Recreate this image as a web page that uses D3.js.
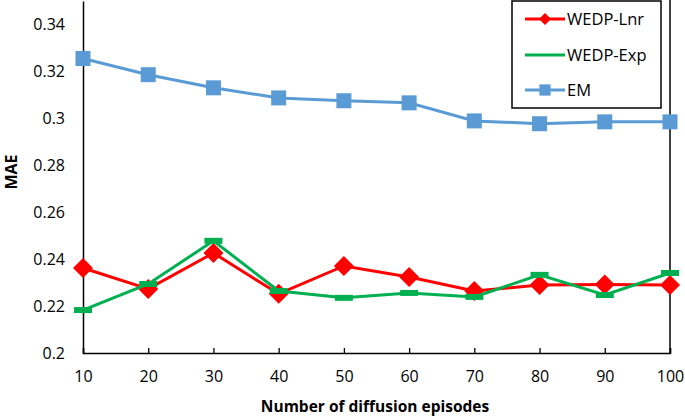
<!DOCTYPE html>
<html><head><meta charset="utf-8">
<script src="https://cdn.jsdelivr.net/npm/d3@7"></script>
<style>body{margin:0;background:#fff}svg{display:block}text{font-family:"Open Sans",sans-serif}</style>
</head><body>
<svg id="c" width="685" height="419"></svg>
<script>
const episodes = [10,20,30,40,50,60,70,80,90,100];
const wedpLnr = [0.2362,0.2273,0.2426,0.2252,0.2371,0.2324,0.2264,0.229,0.2292,0.229];
const wedpExp = [0.2183,0.2294,0.2478,0.2264,0.2235,0.2256,0.2239,0.2333,0.2247,0.2341];
const em = [0.3255,0.3186,0.313,0.3087,0.3075,0.3066,0.2989,0.2977,0.2985,0.2985];
const yTicks = [0.2,0.22,0.24,0.26,0.28,0.3,0.32,0.34];
const seriesNames = ["WEDP-Lnr","WEDP-Exp","EM"];
const colors = ["#ff0000","#00b050","#5b9bd5"];

const svg = d3.select("#c");
const L=83,R=670,T=1,B=353;
const x = d3.scaleLinear().domain([10,100]).range([L,R]);
const y = d3.scaleLinear().domain([0.2,0.35]).range([B,T]);

// axes
const xa = svg.append("g").attr("transform",`translate(0,${B})`)
  .call(d3.axisBottom(x).tickValues(episodes).tickSize(-5).tickPadding(18).tickFormat(d3.format("d")));
xa.select(".domain").attr("stroke","#000").attr("stroke-width",1.5);
xa.selectAll(".tick line").attr("stroke","#000").attr("stroke-width",1.3);
xa.selectAll("text").attr("font-size",16).attr("fill","#000");

const ya = svg.append("g").attr("transform",`translate(${L},0)`)
  .call(d3.axisLeft(y).tickValues(yTicks).tickSize(0).tickPadding(18).tickFormat(d=>String(+d.toFixed(2))));
ya.select(".domain").attr("stroke","#000").attr("stroke-width",1.5);
ya.selectAll("text").attr("font-size",16).attr("fill","#000");

// right border
svg.append("line").attr("x1",R).attr("x2",R).attr("y1",0).attr("y2",B).attr("stroke","#000").attr("stroke-width",1.5);

const data = [wedpLnr,wedpExp,em];
const line = d3.line().x((d,i)=>x(episodes[i])).y(d=>y(d));

function marker(g,k,cx,cy,scale){
  const s = scale||1;
  if(k===0){
    g.append("path").attr("d",`M${cx},${cy-10*s}L${cx+10*s},${cy}L${cx},${cy+10*s}L${cx-10*s},${cy}Z`).attr("fill",colors[0]);
  } else if(k===1){
    g.append("rect").attr("x",cx-9*s).attr("y",cy-3).attr("width",18*s).attr("height",6).attr("fill",colors[1]);
  } else {
    g.append("rect").attr("x",cx-7.5*s).attr("y",cy-7.5*s).attr("width",15*s).attr("height",15*s).attr("fill",colors[2]);
  }
}

[2,0,1].forEach(k=>{
  const g = svg.append("g");
  g.append("path").attr("d",line(data[k])).attr("fill","none").attr("stroke",colors[k]).attr("stroke-width",3);
  data[k].forEach((v,i)=>marker(g,k,x(episodes[i]),y(v)));
});

// legend
const lg = svg.append("g");
lg.append("rect").attr("x",512).attr("y",1).attr("width",149).attr("height",107).attr("fill","#fff").attr("stroke","#000").attr("stroke-width",1.5);
const ly=[19,55,90];
seriesNames.forEach((n,k)=>{
  lg.append("line").attr("x1",525).attr("x2",565).attr("y1",ly[k]).attr("y2",ly[k]).attr("stroke",colors[k]).attr("stroke-width",3);
  if(k!==1) marker(lg,k,545,ly[k],k===0?0.6:0.75);
  lg.append("text").attr("x",567).attr("y",ly[k]).attr("dy","0.35em").attr("font-size",16.5).text(n);
});

svg.append("text").attr("x",375).attr("y",412).attr("text-anchor","middle").attr("font-size",15.5).attr("font-weight","bold").text("Number of diffusion episodes");
svg.append("text").attr("transform","translate(17,172) rotate(-90)").attr("text-anchor","middle").attr("font-size",16).attr("font-weight","bold").text("MAE");
</script>
</body></html>
